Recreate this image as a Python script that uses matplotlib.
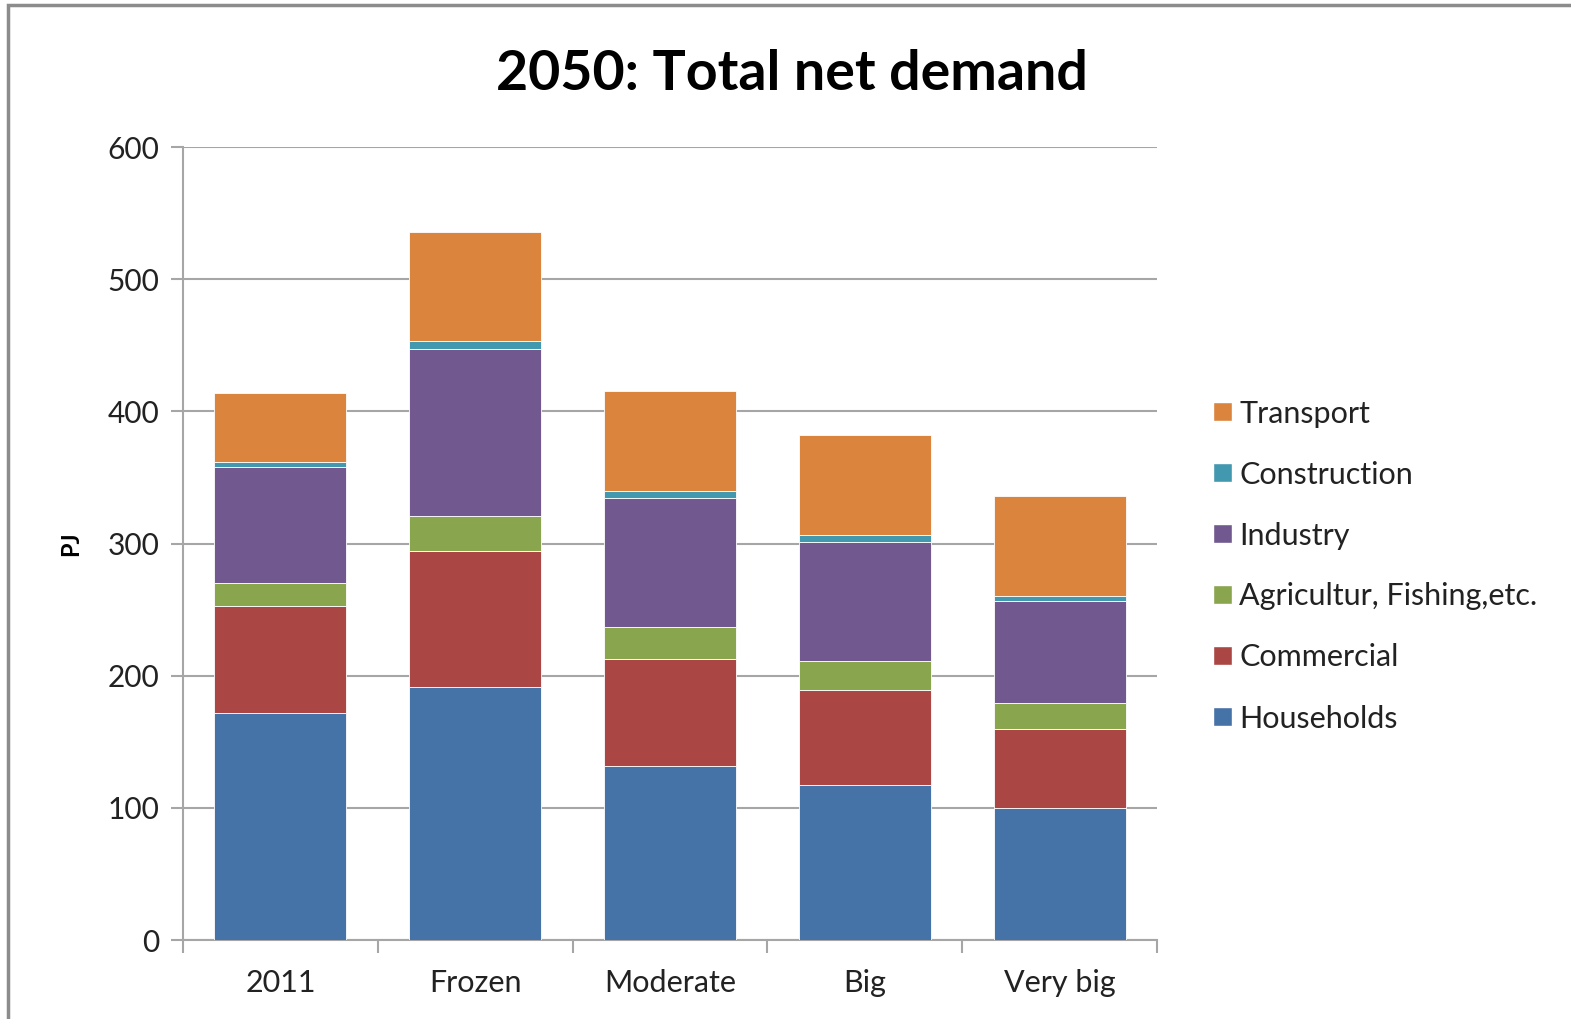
import numpy as np
import matplotlib.pyplot as plt
from matplotlib.patches import Rectangle, Patch

scenarios = ["2011", "Frozen", "Moderate", "Big", "Very big"]
households = [172.0, 191.7, 132.0, 117.1, 100.0]
commercial = [80.6, 102.5, 80.6, 72.3, 60.0]
agriculture = [17.4, 26.9, 24.2, 21.7, 19.6]
industry = [87.7, 125.7, 97.9, 90.4, 76.8]
construction = [3.7, 6.3, 4.9, 4.8, 3.8]
transport = [52.6, 82.9, 75.5, 76.0, 75.8]

series = [
    ("Households", households, "#4572A7"),
    ("Commercial", commercial, "#AA4643"),
    ("Agricultur, Fishing,etc.", agriculture, "#89A54E"),
    ("Industry", industry, "#71588F"),
    ("Construction", construction, "#4198AF"),
    ("Transport", transport, "#DB843D"),
]

plt.rcParams['font.family'] = ['Lato', 'DejaVu Sans']

W, H = 1571, 1019
fig = plt.figure(figsize=(W / 100, H / 100), dpi=100)
ax = fig.add_axes([183 / W, 1 - 940 / H, (1157 - 183) / W, (940 - 147) / H])

# chart frame
fig.patches.append(Rectangle((8 / W, -0.05), 1.1, 1 - 5 / H + 0.05,
                             transform=fig.transFigure, fill=False,
                             edgecolor="#8c8c8c", linewidth=2.5))

x = np.arange(len(scenarios))
bottom = np.zeros(len(scenarios))
for name, vals, col in series:
    ax.bar(x, vals, 0.678, bottom=bottom, color=col, edgecolor="#ffffff",
           linewidth=0.6, zorder=3)
    bottom += np.array(vals)

ax.set_xlim(-0.5, len(scenarios) - 0.5)
ax.set_ylim(0, 600)
ax.set_yticks(np.arange(0, 601, 100))
ax.yaxis.grid(True, color="#a6a6a6", linewidth=1.5, zorder=0)
ax.set_axisbelow(True)

ax.set_xticks(x)
ax.set_xticklabels(scenarios, fontsize=22, color="#222222")
ax.set_xticks(np.arange(-0.5, len(scenarios)), minor=True)
ax.tick_params(axis="x", which="major", length=0, pad=21)
ax.tick_params(axis="x", which="minor", length=9, width=1.5, color="#a6a6a6",
               direction="out")
ax.tick_params(axis="y", length=9, width=1.5, color="#a6a6a6", direction="out",
               labelsize=21.5, labelcolor="#222222", pad=8)

for s in ["top", "right"]:
    ax.spines[s].set_visible(False)
for s in ["left", "bottom"]:
    ax.spines[s].set_color("#a6a6a6")
    ax.spines[s].set_linewidth(1.5)

ax.set_ylabel("PJ", fontsize=17, fontweight="bold", labelpad=18)

fig.text(792 / W, 1 - 74 / H, "2050: Total net demand", ha="center",
         va="center", fontsize=40, fontweight="bold")

handles = [Patch(facecolor=col, edgecolor="white", label=name)
           for name, vals, col in reversed(series)]
fig.legend(handles=handles, loc="center left",
           bbox_to_anchor=(1198 / W, 1 - 566 / H), frameon=False,
           fontsize=22, labelspacing=1.08, handlelength=0.6,
           handleheight=0.6, handletextpad=0.25, borderpad=0,
           labelcolor="#222222")

fig.savefig("out.png", dpi=100)
